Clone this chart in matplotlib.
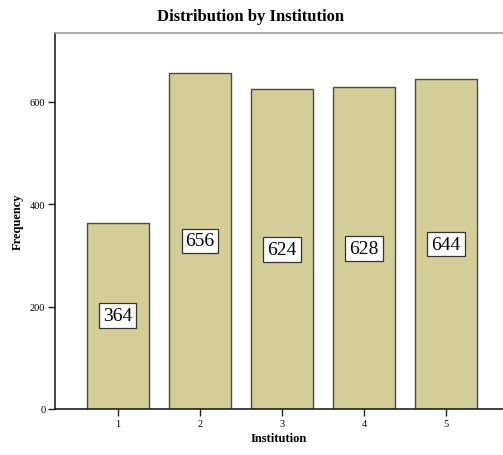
import matplotlib
matplotlib.use("Agg")
import matplotlib.pyplot as plt

institutions = ["1", "2", "3", "4", "5"]
frequencies = [364, 656, 624, 628, 644]
y_ticks = [0, 200, 400, 600]

plt.rcParams["font.family"] = ["Liberation Serif", "DejaVu Serif"]

fig = plt.figure(figsize=(5.03, 4.56), dpi=100)
ax = fig.add_axes([55 / 503, 46 / 456, 1 - 55 / 503, 376 / 456])

positions = list(range(1, len(institutions) + 1))
bars = ax.bar(positions, frequencies, width=0.75, color="#D3CE98",
              edgecolor="#4a4a40", linewidth=1.0, zorder=2)

for x, v in zip(positions, frequencies):
    ax.text(x, v / 2, f"{v}", ha="center", va="center", fontsize=14,
            bbox=dict(boxstyle="square,pad=0.2", facecolor="white",
                      edgecolor="#333333", linewidth=0.9), zorder=3)

ax.set_xlim(0.232, 5.695)
ax.set_ylim(0, 734)
ax.set_xticks(positions)
ax.set_xticklabels(institutions, fontsize=7.5)
ax.set_yticks(y_ticks)
ax.set_yticklabels([str(t) for t in y_ticks], fontsize=7.5)
ax.tick_params(direction="out", length=5, width=1.0, color="#222222", pad=2)

ax.spines["right"].set_visible(False)
ax.spines["top"].set_color("#999999")
ax.spines["top"].set_linewidth(1.2)
for s in ("left", "bottom"):
    ax.spines[s].set_color("#222222")
    ax.spines[s].set_linewidth(1.2)

ax.set_xlabel("Institution", fontsize=9, fontweight="bold", labelpad=3)
ax.set_ylabel("Frequency", fontsize=9, fontweight="bold", labelpad=4)
fig.text(251 / 503, 1 - 17 / 456, "Distribution by Institution", ha="center",
         va="center", fontsize=12, fontweight="bold")

fig.savefig("out.png", dpi=100)
